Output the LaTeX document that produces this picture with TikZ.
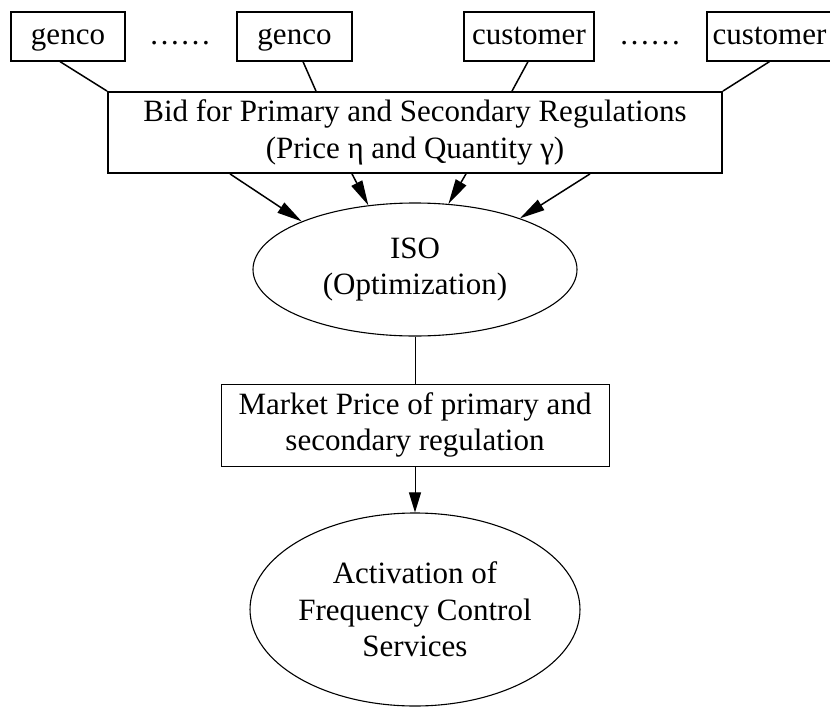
\documentclass[tikz,border=0pt]{standalone}
\usepackage{fontspec}
\setmainfont{Liberation Serif}
\usetikzlibrary{arrows.meta,shapes.geometric}
\tikzset{
	every node/.style={font=\fontsize{31}{36.5}\selectfont},
	topbox/.style={draw, line width=1.2pt, minimum height=49pt, inner sep=0pt, text height=22pt, text depth=7pt},
	dotsnode/.style={inner sep=0pt, text height=22pt, text depth=7pt},
	bidbox/.style={draw, line width=1.8pt, minimum width=614pt, minimum height=81pt, inner sep=0pt, align=center},
	pricebox/.style={draw, line width=1pt, minimum width=388pt, minimum height=82pt, inner sep=0pt, align=center},
	oval/.style={draw, ellipse, line width=1.1pt, minimum width=324pt, inner sep=0pt, align=center},
	feed/.style={line width=1.5pt},
	bidarrow/.style={line width=1.5pt, -{Triangle[length=25pt,width=12pt]}},
	link/.style={line width=1pt},
	linkarrow/.style={line width=1pt, -{Triangle[length=20pt,width=12pt]}}
}

\begin{document}
\begin{tikzpicture}[x=1pt,y=-1pt]
		%%%%% START %%%%%
		\useasboundingbox (0,0) rectangle (830,707);
		
		\node[topbox, minimum width=114pt] (genco1) at (68,36.5) {genco};
		\node[dotsnode] (dots1) at (180,36.5) {……};
		\node[topbox, minimum width=115pt] (genco2) at (294.5,36.5) {genco};
		\node[topbox, minimum width=130pt] (cust1) at (529,36.5) {customer};
		\node[dotsnode] (dots2) at (650,36.5) {……};
		\node[topbox, minimum width=125pt] (cust2) at (769.5,36.5) {customer};
		
		\node[bidbox] (bid) at (415,132.5) {Bid for Primary and Secondary Regulations\\(Price η and Quantity γ)};
		
		\draw[feed] ([xshift=-8pt]genco1.south) -- (bid.north west);
		\draw[feed] ([xshift=8.5pt]genco2.south) -- ([xshift=-99pt]bid.north);
		\draw[feed] ([xshift=-1pt]cust1.south) -- ([xshift=97pt]bid.north);
		\draw[feed] (cust2.south) -- (bid.north east);
		
		\node[oval, minimum height=133pt] (iso) at (415,269.5) {ISO\\(Optimization)};
		
		\draw[bidarrow] ([xshift=-185pt]bid.south) -- (iso.157);
		\draw[bidarrow] ([xshift=-63pt]bid.south) -- (iso.126);
		\draw[bidarrow] ([xshift=51pt]bid.south) -- (iso.63);
		\draw[bidarrow] ([xshift=175pt]bid.south) -- (iso.26);
		
		\node[pricebox] (market) at (415,425) {Market Price of primary and\\secondary regulation};
		\draw[link] (iso) -- (market);
		
		\node[oval, minimum height=193pt] (activ) at (415,609.5) {Activation of\\Frequency Control\\Services};
		\draw[linkarrow] (market) -- (activ);
		
		%%%%% END %%%%%
	\end{tikzpicture}
\end{document}
